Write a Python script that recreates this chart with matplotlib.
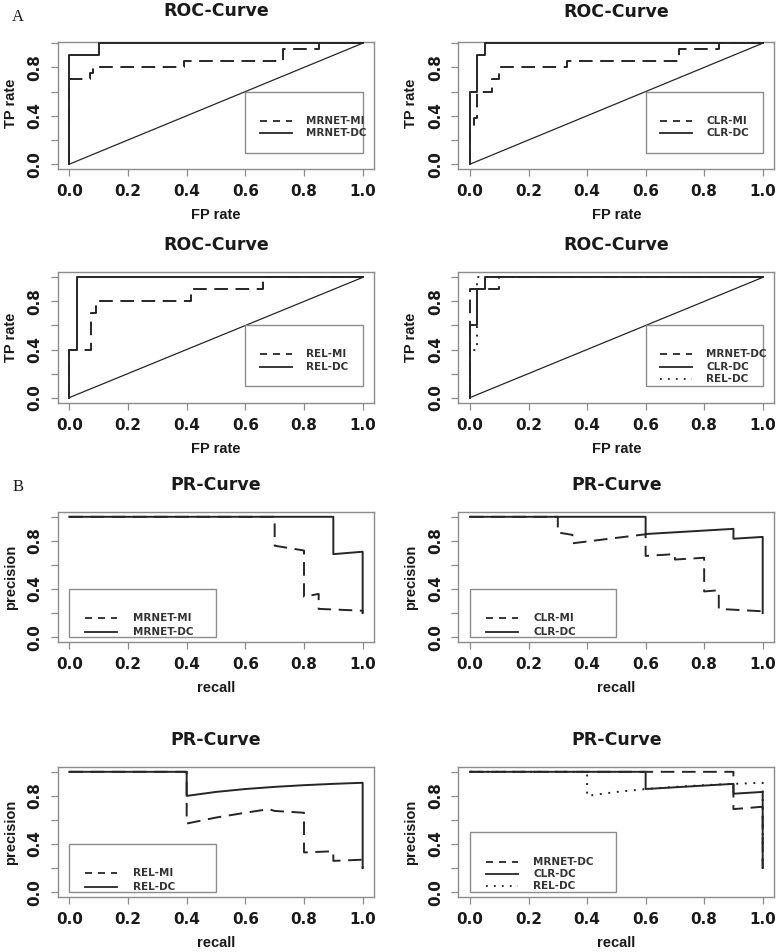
"""
ROC (A) and PR (B) curves for MRNET / CLR / REL networks, MI vs DC.
Redrawn from the 4x2 R-style panel figure.
"""
import matplotlib.pyplot as plt
import matplotlib as mpl
from matplotlib.patches import Rectangle
import numpy as np

mpl.rcParams.update({
    "font.family": "DejaVu Sans",
    "font.weight": "bold",
    "axes.linewidth": 1.0,
    "xtick.major.width": 0.9,
    "ytick.major.width": 0.9,
    "xtick.major.size": 5,
    "ytick.major.size": 5,
})

# ---- ROC curves: FP rate (x) vs TP rate (y) ----
mrnet_mi_fpr = [0, 0, 0.07, 0.07, 0.08, 0.08, 0.39, 0.39, 0.73, 0.73, 0.85, 0.85, 1.0]
mrnet_mi_tpr = [0, 0.7, 0.7, 0.75, 0.75, 0.8, 0.8, 0.85, 0.85, 0.95, 0.95, 1.0, 1.0]
mrnet_dc_fpr = [0, 0, 0.1, 0.1, 1.0]
mrnet_dc_tpr = [0, 0.9, 0.9, 1.0, 1.0]

clr_mi_fpr = [0, 0, 0.012, 0.012, 0.025, 0.025, 0.075, 0.075, 0.1, 0.1, 0.33, 0.33, 0.715, 0.715, 0.85, 0.85, 1.0]
clr_mi_tpr = [0, 0.3, 0.3, 0.38, 0.38, 0.6, 0.6, 0.7, 0.7, 0.8, 0.8, 0.85, 0.85, 0.95, 0.95, 1.0, 1.0]
clr_dc_fpr = [0, 0, 0.025, 0.025, 0.05, 0.05, 1.0]
clr_dc_tpr = [0, 0.6, 0.6, 0.9, 0.9, 1.0, 1.0]

rel_mi_fpr = [0, 0, 0.075, 0.075, 0.09, 0.09, 0.415, 0.415, 0.66, 0.66, 1.0]
rel_mi_tpr = [0, 0.4, 0.4, 0.7, 0.7, 0.8, 0.8, 0.9, 0.9, 1.0, 1.0]
rel_dc_fpr = [0, 0, 0.025, 0.025, 1.0]
rel_dc_tpr = [0, 0.4, 0.4, 1.0, 1.0]

diag = [0.0, 1.0]

# ---- PR curves: recall (x) vs precision (y) ----
pr_mrnet_mi_rec = [0, 0.7, 0.7, 0.8, 0.8, 0.85, 0.85, 1.0, 1.0]
pr_mrnet_mi_prec = [1.0, 1.0, 0.76, 0.72, 0.335, 0.36, 0.235, 0.22, 0.2]
pr_mrnet_dc_rec = [0, 0.9, 0.9, 1.0, 1.0]
pr_mrnet_dc_prec = [1.0, 1.0, 0.69, 0.71, 0.2]

pr_clr_mi_rec = [0, 0.3, 0.3, 0.35, 0.35, 0.6, 0.6, 0.7, 0.7, 0.8, 0.8, 0.85, 0.85, 1.0, 1.0]
pr_clr_mi_prec = [1.0, 1.0, 0.87, 0.85, 0.78, 0.855, 0.675, 0.69, 0.645, 0.66, 0.38, 0.39, 0.235, 0.215, 0.2]
pr_clr_dc_rec = [0, 0.6, 0.6, 0.9, 0.9, 1.0, 1.0]
pr_clr_dc_prec = [1.0, 1.0, 0.857, 0.9, 0.818, 0.833, 0.2]

pr_rel_mi_rec = [0, 0.4, 0.4, 0.5, 0.6, 0.68, 0.7, 0.8, 0.8, 0.9, 0.9, 1.0, 1.0]
pr_rel_mi_prec = [1.0, 1.0, 0.57, 0.62, 0.66, 0.69, 0.675, 0.66, 0.33, 0.34, 0.26, 0.27, 0.2]
pr_rel_dc_rec = [0, 0.4, 0.4, 0.5, 0.6, 0.7, 0.8, 0.9, 1.0, 1.0]
pr_rel_dc_prec = [1.0, 1.0, 0.8, 0.833, 0.857, 0.875, 0.889, 0.9, 0.909, 0.2]

x_ticks = [0.0, 0.2, 0.4, 0.6, 0.8, 1.0]
x_ticklabels = ['0.0', '0.2', '0.4', '0.6', '0.8', '1.0']
y_ticks = [0.0, 0.2, 0.4, 0.6, 0.8, 1.0]
y_ticklabels = ['0.0', '', '0.4', '', '0.8', '']

LINE = '#262626'
GREY = '#8c8c8c'
TEXT = '#1a1a1a'
DASH = (0, (7.0, 3.9))
DOT = (0, (1.0, 3.4))
LEG_DASH = (0, (3.9, 3.3))

W, H = 779, 952
fig = plt.figure(figsize=(W / 100, H / 100), dpi=100)


def add_panel(box, ylim, title, title_y, xlabel, xlabel_y, ylabel):
    l, t, r, b = box
    ax = fig.add_axes([l / W, 1 - b / H, (r - l) / W, (b - t) / H])
    ax.set_xlim(-0.04, 1.04)
    ax.set_ylim(*ylim)
    for s in ax.spines.values():
        s.set_color(GREY)
    ax.set_xticks(x_ticks)
    ax.set_xticklabels(x_ticklabels)
    ax.set_yticks(y_ticks)
    ax.set_yticklabels(y_ticklabels)
    ax.tick_params(color=GREY, labelcolor=TEXT, labelsize=11, pad=6)
    ax.tick_params(axis='y', labelrotation=90)
    for lbl in ax.get_yticklabels():
        lbl.set_va('center')
    fig.text((l + r) / 2 / W, 1 - title_y / H, title, ha='center', va='center',
             fontsize=12.5, color=TEXT)
    fig.text((l + r) / 2 / W, 1 - xlabel_y / H, xlabel, ha='center', va='center',
             fontsize=10.5, family='Liberation Sans', color=TEXT)
    y_mid = b - (0.5 - ylim[0]) / (ylim[1] - ylim[0]) * (b - t)
    fig.text((l - 47) / W, 1 - y_mid / H, ylabel, rotation=90, ha='center',
             va='center', fontsize=10.5, family='Liberation Sans', color=TEXT)
    return ax


def add_legend(ax, rect, rows, line_x, text_x, entries):
    x0, y0, x1, y1 = rect
    ax.add_patch(Rectangle((x0, y0), x1 - x0, y1 - y0, fill=False,
                           edgecolor=GREY, lw=1.0, zorder=4))
    for y, (label, ls) in zip(rows, entries):
        ax.plot(line_x, [y, y], color=LINE, lw=1.3, linestyle=ls, zorder=5)
        ax.text(text_x, y, label, ha='left', va='center', fontsize=7.5,
                color='#333333', zorder=5)


def curve(ax, x, y, ls):
    ax.plot(x, y, color=LINE, lw=1.4, linestyle=ls, zorder=3)


roc_boxes = [(57.6, 42, 374.4, 169), (458.3, 42, 774.4, 169),
             (57.6, 272, 374.4, 403), (458.3, 272, 774.4, 403)]
roc_ylims = [(-0.04, 1.01), (-0.04, 1.01), (-0.045, 1.045), (-0.045, 1.045)]
roc_title_y = [11, 12, 245, 245]
roc_xlabel_y = [215, 215, 449, 449]

pr_boxes = [(57.6, 512, 374.4, 642), (458.3, 512, 774.4, 642),
            (57.6, 767, 374.4, 897), (458.3, 767, 774.4, 897)]
pr_title_y = [485, 485, 740, 740]
pr_xlabel_y = [688, 688, 943, 943]

roc_sets = [
    [(mrnet_mi_fpr, mrnet_mi_tpr, DASH, 'MRNET-MI'), (mrnet_dc_fpr, mrnet_dc_tpr, '-', 'MRNET-DC')],
    [(clr_mi_fpr, clr_mi_tpr, DASH, 'CLR-MI'), (clr_dc_fpr, clr_dc_tpr, '-', 'CLR-DC')],
    [(rel_mi_fpr, rel_mi_tpr, DASH, 'REL-MI'), (rel_dc_fpr, rel_dc_tpr, '-', 'REL-DC')],
    [(mrnet_dc_fpr, mrnet_dc_tpr, DASH, 'MRNET-DC'), (clr_dc_fpr, clr_dc_tpr, '-', 'CLR-DC'),
     (rel_dc_fpr, rel_dc_tpr, DOT, 'REL-DC')],
]
pr_sets = [
    [(pr_mrnet_mi_rec, pr_mrnet_mi_prec, DASH, 'MRNET-MI'), (pr_mrnet_dc_rec, pr_mrnet_dc_prec, '-', 'MRNET-DC')],
    [(pr_clr_mi_rec, pr_clr_mi_prec, DASH, 'CLR-MI'), (pr_clr_dc_rec, pr_clr_dc_prec, '-', 'CLR-DC')],
    [(pr_rel_mi_rec, pr_rel_mi_prec, DASH, 'REL-MI'), (pr_rel_dc_rec, pr_rel_dc_prec, '-', 'REL-DC')],
    [(pr_mrnet_dc_rec, pr_mrnet_dc_prec, DASH, 'MRNET-DC'), (pr_clr_dc_rec, pr_clr_dc_prec, '-', 'CLR-DC'),
     (pr_rel_dc_rec, pr_rel_dc_prec, DOT, 'REL-DC')],
]

leg_style = {DASH: LEG_DASH, '-': '-', DOT: DOT}

for i in range(4):
    ax = add_panel(roc_boxes[i], roc_ylims[i], 'ROC-Curve', roc_title_y[i],
                   'FP rate', roc_xlabel_y[i], 'TP rate')
    for x, y, ls, _ in roc_sets[i]:
        curve(ax, x, y, ls)
    ax.plot(diag, diag, color=LINE, lw=0.9, zorder=2)
    entries = [(lab, leg_style[ls]) for _, _, ls, lab in roc_sets[i]]
    add_legend(ax, (0.6, 0.095, 1.0, 0.6), [0.36, 0.257, 0.155],
               [0.65, 0.758], 0.808, entries)

for i in range(4):
    ax = add_panel(pr_boxes[i], (-0.04, 1.04), 'PR-Curve', pr_title_y[i],
                   'recall', pr_xlabel_y[i], 'precision')
    for x, y, ls, _ in pr_sets[i]:
        curve(ax, x, y, ls)
    entries = [(lab, leg_style[ls]) for _, _, ls, lab in pr_sets[i]]
    if len(entries) == 3:
        rect, rows = (0.0, 0.0, 0.5, 0.5), [0.25, 0.152, 0.05]
    else:
        rect, rows = (0.0, 0.0, 0.5, 0.4), [0.156, 0.046]
    add_legend(ax, rect, rows, [0.053, 0.164], 0.216, entries)

fig.text(18 / W, 1 - 17 / H, 'A', family='Liberation Serif', fontweight='normal',
         fontsize=12, ha='center', va='center', color=TEXT)
fig.text(18 / W, 1 - 487 / H, 'B', family='Liberation Serif', fontweight='normal',
         fontsize=12, ha='center', va='center', color=TEXT)

fig.savefig('out.png', dpi=100, facecolor='white')
